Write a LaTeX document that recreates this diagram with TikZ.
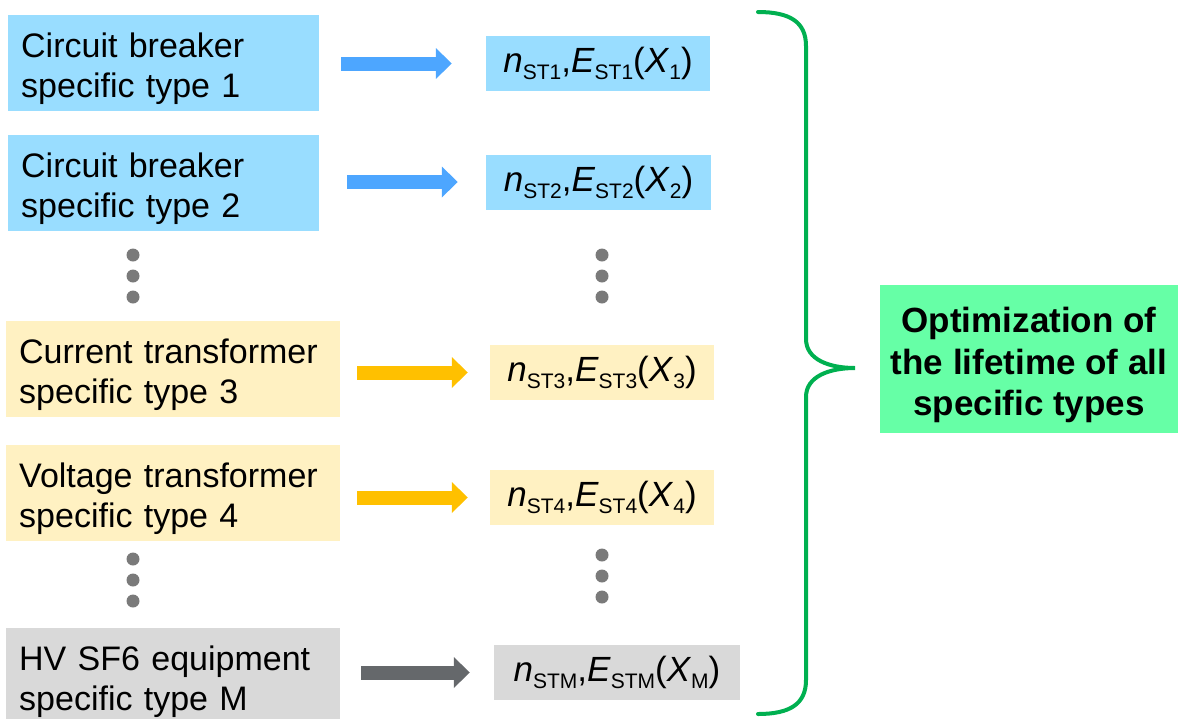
\documentclass[tikz,border=0pt]{standalone}
\usepackage{fontspec}
\setmainfont{Liberation Sans}
\usetikzlibrary{arrows.meta}
\definecolor{cbblue}{HTML}{99DDFF}
\definecolor{ctyellow}{HTML}{FFF1C2}
\definecolor{sfgray}{HTML}{D9D9D9}
\definecolor{arrblue}{HTML}{4DA6FF}
\definecolor{arryellow}{HTML}{FFC000}
\definecolor{arrgray}{HTML}{65686B}
\definecolor{dotgray}{HTML}{7A7A7A}
\definecolor{bracegreen}{HTML}{00B050}
\definecolor{optgreen}{HTML}{66FFA6}
\newcommand{\stsub}[1]{\raisebox{-0.2em}{\fontsize{21}{21}\selectfont #1}}
\newcommand{\nest}[2]{\textit{n}\stsub{ST#1},\textit{E}\stsub{ST#1}(\textit{X}\stsub{#2})}
\newcommand{\typetext}[2]{\rule{0pt}{35pt}#1\\#2}

\begin{document}
\begin{tikzpicture}[x=1pt,y=-1pt]
    \tikzstyle typebox=[anchor=north west, align=left, inner xsep=13pt, inner ysep=0pt, minimum height=96pt, font=\fontsize{34}{40}\selectfont]
    \tikzstyle resbox=[minimum height=55pt, inner sep=0pt, font=\fontsize{35}{40}\selectfont]
    \tikzstyle blockarrow=[line width=14pt, -{Triangle[width=30pt,length=16pt]}]
    \useasboundingbox (0,0) rectangle (1178,718);
    \clip (0,0) rectangle (1178,718);
    \node[typebox, fill=cbblue, text width=285pt] (cb1) at (8,15) {\typetext{Circuit breaker}{specific type 1}};
    \node[typebox, fill=cbblue, text width=285pt] (cb2) at (8,135) {\typetext{Circuit breaker}{specific type 2}};
    \node[typebox, fill=ctyellow, text width=308pt] (ct3) at (6,321) {\typetext{Current transformer}{specific type 3}};
    \node[typebox, fill=ctyellow, text width=308pt] (vt4) at (6,445) {\typetext{Voltage transformer}{specific type 4}};
    \node[typebox, fill=sfgray, text width=308pt] (sfm) at (6,628) {\typetext{HV SF6 equipment}{specific type M}};
    \node[resbox, fill=cbblue, minimum width=224pt] (r1) at (598,63.5) {\nest{1}{1}};
    \node[resbox, fill=cbblue, minimum width=225pt] (r2) at (598.5,182) {\nest{2}{2}};
    \node[resbox, fill=ctyellow, minimum width=224pt] (r3) at (602,372.5) {\nest{3}{3}};
    \node[resbox, fill=ctyellow, minimum width=224pt] (r4) at (602,497.5) {\nest{4}{4}};
    \node[resbox, fill=sfgray, minimum width=246pt] (rm) at (617,672.5) {\nest{M}{M}};
    \draw[blockarrow, arrblue, shorten <=22pt, shorten >=34pt] (cb1.east |- r1.west) -- (r1.west);
    \draw[blockarrow, arrblue, shorten <=28pt, shorten >=28pt] (cb2.east |- r2.west) -- (r2.west);
    \draw[blockarrow, arryellow, shorten <=17pt, shorten >=22pt] (ct3.east |- r3.west) -- (r3.west);
    \draw[blockarrow, arryellow, shorten <=17pt, shorten >=22pt] (vt4.east |- r4.west) -- (r4.west);
    \draw[blockarrow, arrgray, shorten <=21pt, shorten >=24pt] (sfm.east |- rm.west) -- (rm.west);
    \foreach \dy in {0,21,42} {
      \fill[dotgray] (133,255+\dy) circle (6.5);
      \fill[dotgray] (133,559+\dy) circle (6.5);
      \fill[dotgray] (602,255+\dy) circle (6.5);
      \fill[dotgray] (602,555+\dy) circle (6.5);
    }
    \draw[bracegreen, line width=4pt, line cap=round] (758,12) .. controls (790,12) and (806,22) .. (806,46) -- (806,339) .. controls (806,360) and (830,368) .. (855,368) .. controls (830,368) and (806,376) .. (806,397) -- (806,680) .. controls (806,704) and (790,714) .. (758,714);
    \node[fill=optgreen, minimum width=298pt, minimum height=148pt, align=center, font=\bfseries\fontsize{35}{41.5}\selectfont] (opt) at (1029,359) {\rule{0pt}{38pt}Optimization of\\the lifetime of all\\specific types};
  \end{tikzpicture}
\end{document}
